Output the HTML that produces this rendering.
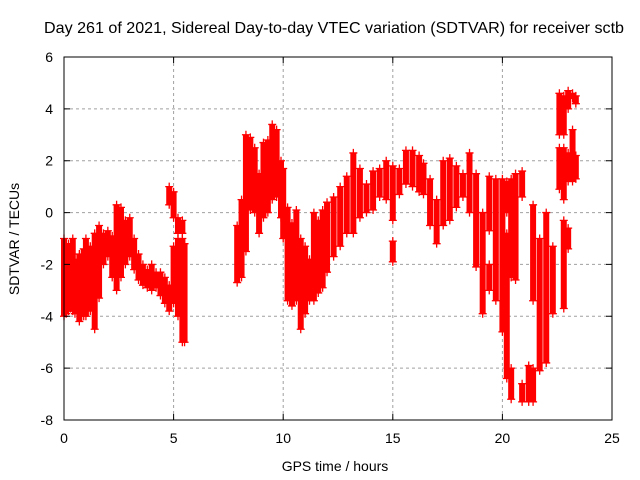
<!DOCTYPE html>
<html><head><meta charset="utf-8"><style>
body{margin:0;background:#fff;}
svg{display:block;font-family:"Liberation Sans",sans-serif;}
</style></head><body>
<svg id="chart" width="640" height="480" viewBox="0 0 640 480">
<rect width="640" height="480" fill="#fff"/>
<text x="334" y="33" font-size="16" textLength="580" lengthAdjust="spacingAndGlyphs" text-anchor="middle" fill="#000">Day 261 of 2021, Sidereal Day-to-day VTEC variation (SDTVAR) for receiver sctb</text>
<g id="grid"></g>
<g id="marks"></g>
<rect x="64" y="57" width="548" height="363" fill="none" stroke="#000" stroke-width="1"/>
<g id="axes"></g>
<text x="335" y="471" font-size="14" text-anchor="middle">GPS time / hours</text>
<text transform="translate(19,239) rotate(-90)" font-size="14" text-anchor="middle">SDTVAR / TECUs</text>
</svg>
<script>
const xTicks=[0,5,10,15,20,25];
const yTicks=[6,4,2,0,-2,-4,-6,-8];
const times=[0.0,0.1,0.2,0.3,0.4,0.5,0.7,0.9,1.0,1.2,1.4,1.6,1.8,2.0,2.2,2.4,2.6,2.8,3.0,3.2,3.4,3.6,3.8,4.0,4.2,4.4,4.6,4.8,4.8,5.0,5.0,5.2,5.2,5.4,5.4,5.5,
7.9,8.1,8.3,8.5,8.7,8.9,9.1,9.3,9.5,9.7,9.9,10.0,10.2,10.4,10.6,10.8,11.0,11.2,11.4,11.6,11.8,12.0,12.3,12.6,12.9,13.2,13.5,13.8,14.1,14.4,14.7,15.0,15.0,15.3,15.6,15.9,16.2,
16.4,16.7,17.0,17.3,17.6,17.9,18.2,18.5,18.8,19.1,19.4,19.4,19.7,20.0,20.2,20.2,20.4,20.4,20.6,20.9,20.9,21.2,21.4,21.4,21.7,22.0,22.3,22.6,22.6,22.8,22.8,22.8,23.0,23.0,23.0,23.2,23.2,23.35,23.35];
const highs=[-1.0,-1.5,-1.2,-1.7,-1.0,-1.8,-1.6,-1.4,-1.0,-1.3,-0.8,-0.5,-0.8,-0.7,-0.9,0.3,0.2,-0.3,-0.2,-1.0,-1.6,-2.0,-2.2,-2.0,-2.3,-2.3,-2.5,1.0,-2.8,0.8,-1.3,-0.2,-1.0,-0.3,-1.0,-1.2,
-0.5,0.5,3.0,2.9,2.5,1.5,2.7,2.8,3.4,3.2,2.0,1.7,0.2,-0.4,0.1,-1.0,-1.3,-1.8,0.0,-0.3,0.1,0.4,0.6,1.0,1.4,2.3,1.7,1.1,1.6,1.7,2.0,1.8,-1.1,1.7,2.4,2.4,2.2,
1.9,1.3,0.5,2.0,2.1,1.8,1.5,2.3,1.5,0.0,1.4,-2.0,1.3,1.3,1.2,-0.8,1.3,-6.0,1.5,1.6,-6.6,-5.9,0.3,-6.0,-1.0,0.0,-1.3,4.6,2.5,4.5,2.5,-0.3,4.7,2.3,-0.6,4.6,3.2,4.5,2.2];
const lows=[-4.0,-3.9,-3.8,-3.7,-3.8,-3.9,-4.2,-4.0,-4.0,-3.8,-4.5,-3.3,-2.0,-1.7,-2.5,-3.0,-2.5,-2.0,-1.7,-2.2,-2.6,-2.8,-2.9,-3.0,-2.9,-3.2,-3.5,0.3,-3.8,-0.2,-3.5,-0.8,-4.0,-0.8,-5.0,-5.0,
-2.7,-2.5,-1.5,0.1,0.0,-0.8,-0.2,0.0,0.5,0.6,-0.2,-1.0,-3.4,-3.6,-3.4,-4.5,-3.9,-3.4,-3.4,-3.1,-2.9,-2.3,-1.7,-1.3,-0.8,-0.8,-0.2,0.0,0.1,0.6,0.5,-0.3,-1.9,0.7,1.1,1.0,0.8,
0.7,-0.5,-1.2,-0.5,-0.3,0.2,0.6,0.0,-2.1,-3.9,-0.7,-3.0,-3.4,-4.6,0.0,-6.4,-2.5,-7.2,-2.6,0.6,-7.3,-7.3,-3.4,-7.3,-6.1,-5.8,-3.9,3.0,0.9,3.0,0.5,-3.7,4.0,1.2,-1.4,4.4,1.2,4.2,1.3];
const NS="http://www.w3.org/2000/svg";
const X0=64,X1=612,Y0=420,Y1=57,XMIN=0,XMAX=25,YMIN=-8,YMAX=6;
function xs(v){return X0+(v-XMIN)/(XMAX-XMIN)*(X1-X0);}
function ys(v){return Y0-(v-YMIN)/(YMAX-YMIN)*(Y0-Y1);}
const grid=document.getElementById('grid'),axes=document.getElementById('axes'),marks=document.getElementById('marks');
function mk(tag,attrs,parent){const e=document.createElementNS(NS,tag);for(const k in attrs)e.setAttribute(k,attrs[k]);parent.appendChild(e);return e;}
xTicks.forEach(t=>{
  const x=xs(t);
  if(t>XMIN&&t<XMAX){const g=mk('line',{x1:x,x2:x,y1:Y0,y2:Y1,stroke:'#a0a0a0','stroke-dasharray':'3,3'},grid);
  
  }
  const tk=mk('path',{d:`M${x},${Y0}v-6M${x},${Y1}v6`,stroke:'#000'},axes);
  
  
  const l=mk('text',{x:x,y:443,'font-size':'14','text-anchor':'middle'},axes);l.textContent=t;
  
  
});
yTicks.forEach(t=>{
  const y=ys(t);
  if(t>YMIN&&t<YMAX){const g=mk('line',{x1:X0,x2:X1,y1:y,y2:y,stroke:'#a0a0a0','stroke-dasharray':'3,3'},grid);
  
  }
  const tk=mk('path',{d:`M${X0},${y}h6M${X1},${y}h-6`,stroke:'#000'},axes);
  
  
  const l=mk('text',{x:53,y:y+5,'font-size':'14','text-anchor':'end'},axes);l.textContent=t;
  
  
});
times.forEach((t,i)=>{
  const x=xs(t),yh=ys(highs[i]),yl=ys(lows[i]);
  const b=mk('line',{x1:x,x2:x,y1:yh,y2:yl,stroke:'#ff0000','stroke-width':'6'},marks);
  
  
  [yh,yl].forEach(y=>{
    const p=mk('path',{d:`M${x-4},${y}h8M${x},${y-4}v8`,stroke:'#ff0000','stroke-width':'1.3'},marks);
    
    
  });
});
</script>
</body></html>
